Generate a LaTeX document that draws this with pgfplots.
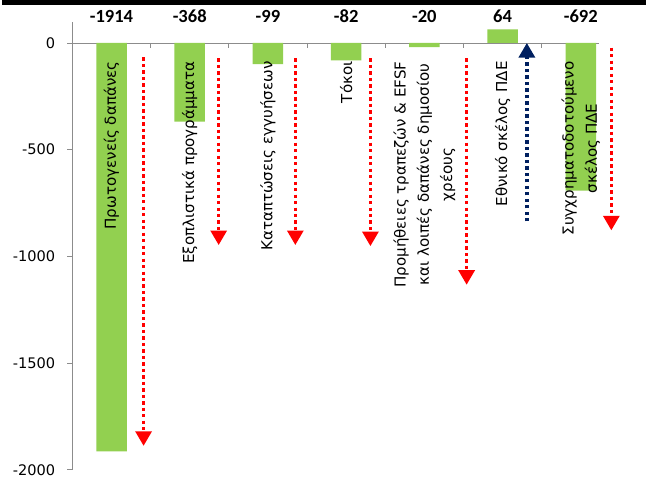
\documentclass[border=0pt]{standalone}
\usepackage{fontspec}
\setmainfont{DejaVu Sans}
\newfontfamily\numfont{Carlito}
\usepackage{pgfplots}
\pgfplotsset{compat=1.18}
\usetikzlibrary{arrows.meta}
\definecolor{bargreen}{HTML}{92D050}
\definecolor{arrred}{HTML}{FF0000}
\definecolor{arrblue}{HTML}{002060}
\definecolor{axgray}{HTML}{8C8C8C}

\begin{document}
\begin{tikzpicture}
\begin{axis}[
    scale only axis, width=413.7pt, height=338.6pt,
    xmin=-0.5, xmax=6.5, ymin=-2000, ymax=100,
    axis on top,
    axis x line=middle, axis y line=left,
    x axis line style={draw=none},
    y axis line style={axgray, -},
    xtick={0,...,6}, xtick style={draw=none},
    xticklabels={
      Πρωτογενείς δαπάνες,
      Εξοπλιστικά προγράμματα,
      Καταπτώσεις εγγυήσεων,
      Τόκοι,
      {Προμήθειες τραπεζών \& EFSF\\και λοιπές δαπάνες δημοσίου\\χρέους},
      Εθνικό σκέλος ΠΔΕ,
      {Συγχρηματοδοτούμενο\\σκέλος ΠΔΕ}},
    xticklabel style={yshift=-10pt, rotate=90, anchor=east, align=center,
      font=\fontsize{11.4}{17.5}\selectfont, inner sep=0pt},
    ytick={-2000,-1500,-1000,-500,0},
    yticklabels={-2000,-1500,-1000,-500,0},
    ytick style={axgray, line width=0.6pt}, ytick pos=left, tick align=outside,
    major tick length=3.75pt,
    yticklabel style={font=\fontsize{11}{12}\selectfont, inner sep=0pt, xshift=-9pt},
    clip=false,
]
% 0 line and category boundary ticks
\addplot[axgray, line width=0.6pt, mark=none] coordinates {(-0.5,0) (6.23,0)};
\addplot[axgray, line width=0.6pt, ycomb, mark=none] coordinates {
  (0.5,-23) (1.5,-23) (2.5,-23) (3.5,-23) (4.5,-23) (5.5,-23)};

% bars
\addplot[ybar, bar width=0.39, fill=bargreen, draw=none] coordinates {
  (0,-1914) (1,-368) (2,-99) (3,-82) (4,-20) (5,64) (6,-692)};

% value labels above the plot
\addplot[draw=none, mark=none, nodes near coords, point meta=explicit symbolic,
  nodes near coords style={anchor=center, font=\numfont\bfseries\fontsize{14}{15}\selectfont}]
  coordinates {
  (0,124)[-1914] (1,124)[-368] (2,124)[-99] (3,124)[-82]
  (4,124)[-20] (5,124)[64] (6,124)[-692]};

% arrows
\pgfplotsset{arr/.style={line width=2.5pt, dash pattern=on 2.5pt off 2.4pt,
  -{Triangle[width=12pt,length=11pt]}, mark=none}}
\addplot[arr, arrred] coordinates {(0.41,-68) (0.41,-1888)};
\addplot[arr, arrred] coordinates {(1.37,-72) (1.37,-947)};
\addplot[arr, arrred] coordinates {(2.35,-72) (2.35,-947)};
\addplot[arr, arrred] coordinates {(3.31,-72) (3.31,-952)};
\addplot[arr, arrred] coordinates {(4.54,-72) (4.54,-1133)};
\addplot[arr, arrblue] coordinates {(5.31,-836) (5.31,0)};
\addplot[arr, arrred] coordinates {(6.39,-22) (6.39,-878)};

\coordinate (bl) at (rel axis cs:0,0);
\coordinate (tr) at (rel axis cs:1,1);
\coordinate (tl) at (rel axis cs:0,1);
\end{axis}
\path ([xshift=-53pt,yshift=-6.5pt]bl) rectangle ([xshift=19.5pt,yshift=16.35pt]tr);
\draw[line width=3.4pt] ([xshift=-53pt,yshift=14.45pt]tl) -- ([xshift=19.5pt,yshift=14.45pt]tr);
\end{tikzpicture}
\end{document}
